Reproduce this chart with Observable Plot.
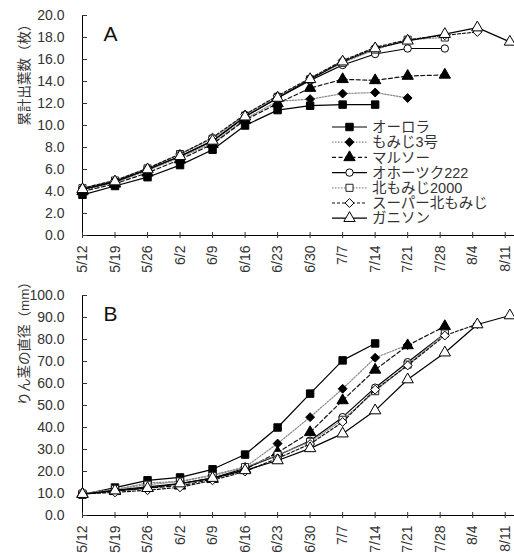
<!DOCTYPE html>
<html><head><meta charset="utf-8">
<script src="https://cdn.jsdelivr.net/npm/d3@7"></script>
<script src="https://cdn.jsdelivr.net/npm/@observablehq/plot@0.6"></script>
<style>
body{margin:0;background:#fff}
#chart svg{display:block}
</style>
</head><body><div id="chart"></div>
<script>
// ---- data ----
const tickLabels = ["5/12","5/19","5/26","6/2","6/9","6/16","6/23","6/30","7/7","7/14","7/21","7/28","8/4","8/11"];
const obsDates = ["5/12","5/19","5/26","6/2","6/9","6/16","6/23","6/30","7/7","7/14","7/21","7/29","8/5","8/12"];
const cultivars = ["オーロラ","もみじ3号","マルソー","オホーツク222","北もみじ2000","スーパー北もみじ","ガニソン"];

// A: cumulative leaf number (枚)
const leafAurora   = [3.7,4.5,5.3,6.4,7.8,10.0,11.4,11.8,11.9,11.9];
const leafMomiji3  = [4.1,4.8,5.9,7.1,8.4,10.6,12.2,12.4,12.9,13.0,12.5];
const leafMaruso   = [4.0,4.7,5.7,6.9,8.3,10.5,12.0,13.4,14.2,14.1,14.5,14.6];
const leafOhotsk   = [4.2,4.9,6.0,7.2,8.6,10.8,12.5,14.1,15.5,16.5,17.0,17.0];
const leafKita2000 = [4.3,5.0,6.1,7.4,8.8,10.9,12.6,14.2,15.7,16.9,17.8,18.0];
const leafSuper    = [4.3,5.0,6.1,7.4,8.9,11.0,12.7,14.3,15.9,17.1,17.8,18.2,18.5];
const leafGunnison = [4.2,4.9,6.0,7.2,8.6,10.8,12.5,14.2,15.8,17.0,17.7,18.3,18.9,17.6];

// B: bulb diameter (mm)
const diaAurora   = [9.5,12.7,16.0,17.3,21.0,27.7,40.0,55.4,70.5,78.2];
const diaMomiji3  = [9.8,11.8,14.8,15.5,18.5,22.0,32.7,44.7,57.6,71.7,77.5];
const diaMaruso   = [9.8,11.0,12.5,13.5,16.5,21.0,28.6,37.8,52.3,66.2,77.3,86.0];
const diaOhotsk   = [10.0,11.5,13.0,14.5,17.0,21.5,27.3,34.0,44.7,58.1,69.7,82.7];
const diaKita2000 = [10.0,12.0,14.0,15.5,18.0,22.0,27.5,33.5,43.5,56.5,68.6,82.7];
const diaSuper    = [9.8,10.5,11.5,12.8,16.0,20.0,26.0,32.5,42.5,57.2,68.2,81.8,87.0];
const diaGunnison = [9.7,11.3,12.4,14.5,17.0,20.5,25.0,30.5,37.2,47.7,61.8,74.0,86.8,90.9];

const yTicksA = [0,2,4,6,8,10,12,14,16,18,20];
const yTicksB = [0,10,20,30,40,50,60,70,80,90,100];

// ---- styles ----
const symbols  = ["square","diamond2","triangle","circle","square","diamond2","triangle"];
const dotFills = ["#000","#000","#000","#fff","#fff","#fff","#fff"];
const dotStroke= ["#000","#000","#000","#000","#222","#000","#000"];
const lineCols = ["#000","#8a8a8a","#111","#000","#8a8a8a","#111","#000"];
const lineDash = [null,"1.5,1.5","4,2.5",null,"1.5,1.5","3,2",null];
const symR     = [4.2,4.0,4.2,3.7,4.0,4.0,4.2];

const parse = s => d3.utcParse("%Y/%m/%d")("2021/" + s);
const tickDates = tickLabels.map(parse);
const xDomain = [parse("5/12"), parse("8/13")];
const FONT = "'Liberation Sans', Arial, 'Noto Sans CJK JP', sans-serif";

function table(series) {
  return series.map((vals, k) => vals.map((v, i) => ({s: k, date: parse(obsDates[i]), value: v})));
}

function panel({series, yMax, yTicks, height, marginTop, marginBottom, letter, ylabel, legend}) {
  const tabs = table(series);
  const marks = [];
  marks.push(Plot.ruleX([xDomain[0]], {stroke: "#000", strokeWidth: 1}));
  marks.push(Plot.ruleY([0], {stroke: "#000", strokeWidth: 1}));
  marks.push(Plot.axisY({ticks: yTicks, tickSize: 0, tickPadding: 18, tickFormat: d => d.toFixed(1), fontSize: 14, label: null}));
  marks.push(Plot.axisY({ticks: yTicks, tickSize: 5, dx: 5, tickFormat: () => "", label: null}));
  marks.push(Plot.axisX({ticks: tickDates, tickSize: 0, tickPadding: 10, tickRotate: -90, fontSize: 14, label: null,
    tickFormat: d => tickLabels[tickDates.findIndex(t => +t === +d)]}));
  marks.push(Plot.axisX({ticks: tickDates, tickSize: 6, dy: -3, tickFormat: () => "", label: null}));
  tabs.forEach((rows, k) => {
    marks.push(Plot.line(rows, {x: "date", y: "value", stroke: lineCols[k], strokeWidth: 1.2,
      strokeDasharray: lineDash[k] || undefined}));
    marks.push(Plot.dot(rows, {x: "date", y: "value", symbol: () => symbols[k], r: symR[k],
      fill: dotFills[k], stroke: dotStroke[k], strokeWidth: 1}));
  });
  marks.push(Plot.text([letter], {frameAnchor: "top-left", dx: 28, dy: 11, fontSize: 21, fill: "#111", textAnchor: "middle"}));
  marks.push(Plot.text([ylabel], {frameAnchor: "left", rotate: -90, dx: -58, fontSize: 13.5, fill: "#333"}));
  const svg = Plot.plot({
    width: 514, height, marginTop, marginBottom, marginLeft: 82, marginRight: 0,
    style: {fontFamily: FONT, fontSize: "14px", color: "#333", background: "#fff", overflow: "visible"},
    x: {type: "utc", domain: xDomain, axis: null},
    y: {domain: [0, yMax], axis: null},
    symbol: {type: "identity"},
    marks
  });
  if (legend) {
    const g = d3.select(svg).append("g");
    cultivars.forEach((name, i) => {
      const y = 127 + i * 15.2;
      g.append("line").attr("x1", 332).attr("x2", 367).attr("y1", y).attr("y2", y)
        .attr("stroke", lineCols[i]).attr("stroke-width", 1.2)
        .attr("stroke-dasharray", lineDash[i] || null);
      const typ = {square: d3.symbolSquare, diamond2: d3.symbolDiamond2, triangle: d3.symbolTriangle, circle: d3.symbolCircle}[symbols[i]];
      g.append("path").attr("d", d3.symbol(typ, Math.PI * symR[i] * symR[i])())
        .attr("transform", `translate(349.5,${y})`)
        .attr("fill", dotFills[i]).attr("stroke", dotStroke[i]).attr("stroke-width", 1);
      g.append("text").attr("x", 372).attr("y", y).attr("dy", "0.36em")
        .attr("text-anchor", "start")
        .attr("font-family", FONT).attr("font-size", 14.5).attr("fill", "#333").text(name);
    });
  }
  return svg;
}

const chart = document.getElementById("chart");
chart.appendChild(panel({
  series: [leafAurora, leafMomiji3, leafMaruso, leafOhotsk, leafKita2000, leafSuper, leafGunnison],
  yMax: 20, yTicks: yTicksA, height: 280, marginTop: 15, marginBottom: 45,
  letter: "A", ylabel: "累計出葉数（枚）", legend: true
}));
chart.appendChild(panel({
  series: [diaAurora, diaMomiji3, diaMaruso, diaOhotsk, diaKita2000, diaSuper, diaGunnison],
  yMax: 100, yTicks: yTicksB, height: 273, marginTop: 15, marginBottom: 38,
  letter: "B", ylabel: "りん茎の直径（mm）", legend: false
}));
</script>
</body></html>
